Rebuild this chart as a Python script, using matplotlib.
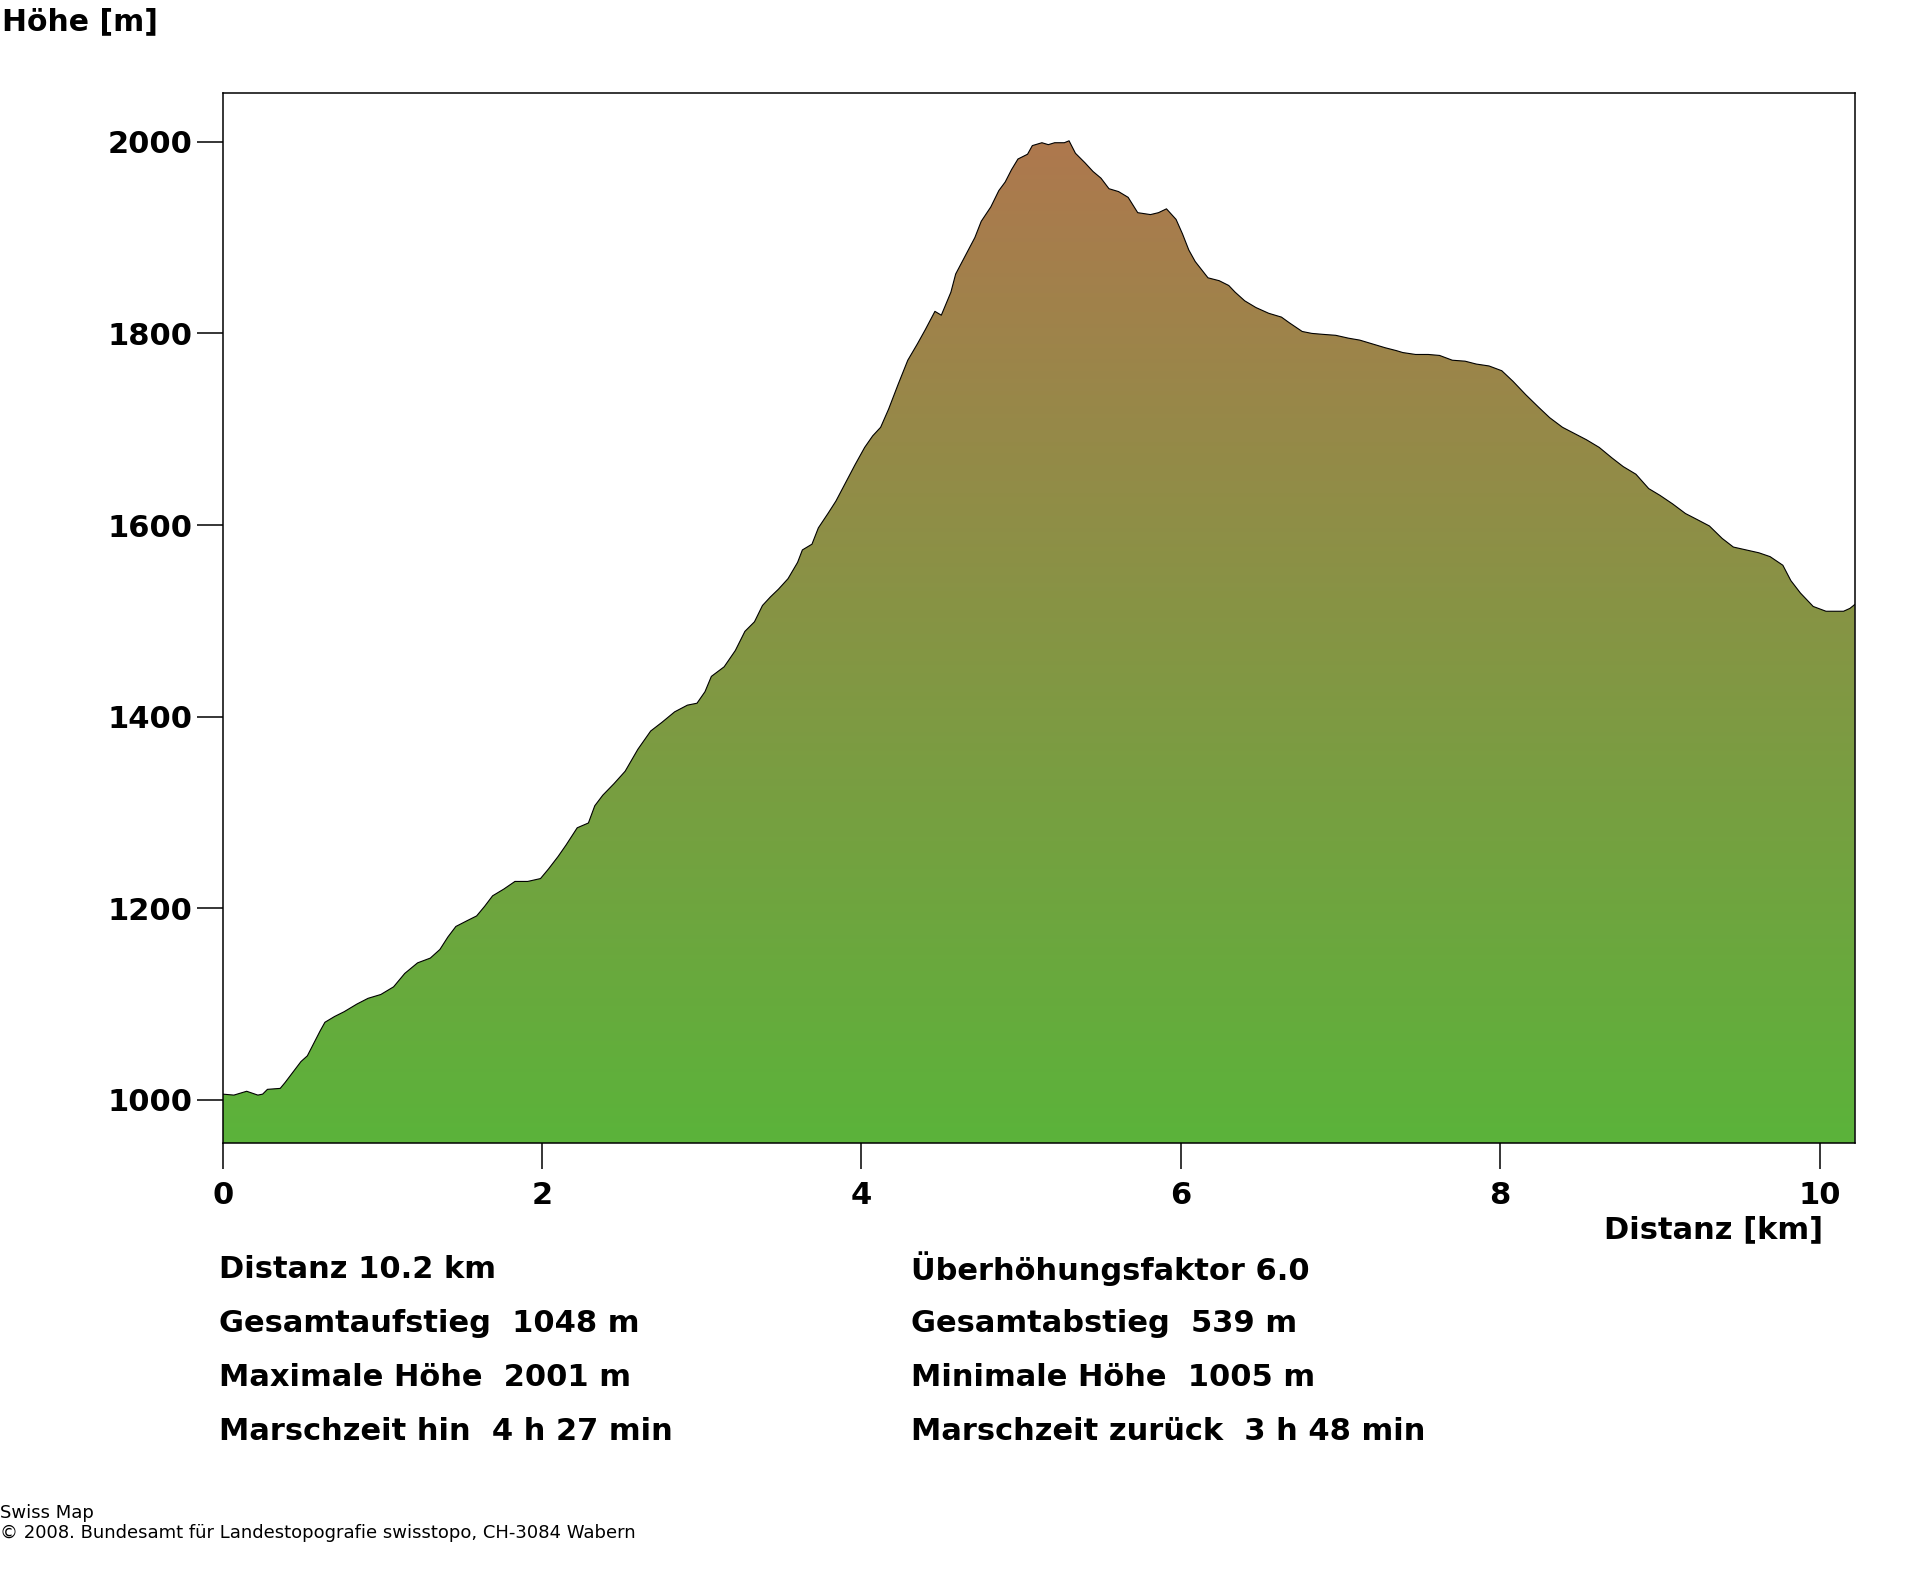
import numpy as np
import matplotlib
matplotlib.use("Agg")
import matplotlib.pyplot as plt
from matplotlib.colors import LinearSegmentedColormap
from matplotlib.patches import Polygon

# profile data
dist_km = [0.00, 0.07, 0.15, 0.22, 0.25, 0.28, 0.36, 0.39, 0.44, 0.49, 0.53, 0.57, 0.61, 0.64,
           0.70, 0.76, 0.84, 0.91, 0.99, 1.07, 1.14, 1.22, 1.30, 1.36, 1.41, 1.46, 1.53, 1.59,
           1.64, 1.69, 1.76, 1.83, 1.91, 1.99, 2.04, 2.10, 2.15, 2.22, 2.29, 2.33, 2.38, 2.45,
           2.52, 2.60, 2.68, 2.75, 2.83, 2.91, 2.97, 3.02, 3.06, 3.14, 3.21, 3.27, 3.33, 3.38,
           3.43, 3.48, 3.54, 3.60, 3.63, 3.69, 3.73, 3.79, 3.84, 3.90, 3.96, 4.02, 4.07, 4.12,
           4.17, 4.23, 4.29, 4.35, 4.40, 4.46, 4.50, 4.56, 4.59, 4.65, 4.71, 4.75, 4.81, 4.86,
           4.90, 4.94, 4.98, 5.04, 5.07, 5.13, 5.17, 5.21, 5.27, 5.30, 5.34, 5.40, 5.45, 5.50,
           5.55, 5.61, 5.67, 5.73, 5.81, 5.86, 5.91, 5.97, 6.01, 6.05, 6.09, 6.17, 6.24, 6.30,
           6.34, 6.40, 6.47, 6.55, 6.63, 6.68, 6.76, 6.82, 6.89, 6.97, 7.05, 7.12, 7.20, 7.28,
           7.35, 7.39, 7.47, 7.55, 7.62, 7.70, 7.78, 7.85, 7.93, 8.01, 8.08, 8.16, 8.24, 8.31,
           8.39, 8.47, 8.54, 8.62, 8.70, 8.77, 8.85, 8.93, 9.00, 9.08, 9.16, 9.23, 9.31, 9.39,
           9.46, 9.54, 9.62, 9.69, 9.77, 9.82, 9.88, 9.96, 10.04, 10.11, 10.15, 10.19, 10.22]
hoehe_m = [1006, 1005, 1009, 1005, 1006, 1011, 1012, 1018, 1029, 1040, 1046, 1059, 1072, 1081,
           1087, 1092, 1100, 1106, 1110, 1118, 1132, 1143, 1148, 1157, 1170, 1181, 1187, 1192,
           1202, 1213, 1220, 1228, 1228, 1231, 1241, 1254, 1266, 1284, 1289, 1307, 1318, 1330,
           1343, 1366, 1385, 1394, 1405, 1412, 1414, 1426, 1442, 1452, 1469, 1489, 1499, 1516,
           1525, 1533, 1544, 1561, 1574, 1580, 1597, 1612, 1625, 1644, 1663, 1681, 1693, 1702,
           1721, 1747, 1772, 1789, 1804, 1823, 1819, 1843, 1862, 1881, 1900, 1917, 1932, 1949,
           1958, 1971, 1982, 1987, 1996, 1999, 1997, 1999, 1999, 2001, 1988, 1978, 1969, 1962,
           1951, 1948, 1942, 1926, 1924, 1926, 1930, 1919, 1904, 1887, 1875, 1858, 1855, 1850,
           1843, 1834, 1827, 1821, 1817, 1811, 1802, 1800, 1799, 1798, 1795, 1793, 1789, 1785,
           1782, 1780, 1778, 1778, 1777, 1772, 1771, 1768, 1766, 1761, 1750, 1736, 1723, 1712,
           1702, 1695, 1689, 1681, 1670, 1661, 1653, 1638, 1631, 1622, 1612, 1606, 1599, 1586,
           1577, 1574, 1571, 1567, 1558, 1542, 1529, 1515, 1510, 1510, 1510, 1513, 1517]

y_ticks = [1000, 1200, 1400, 1600, 1800, 2000]
x_ticks = [0, 2, 4, 6, 8, 10]

stats_left = ["Distanz 10.2 km", "Gesamtaufstieg  1048 m", "Maximale Höhe  2001 m",
              "Marschzeit hin  4 h 27 min"]
stats_right = ["Überhöhungsfaktor 6.0", "Gesamtabstieg  539 m", "Minimale Höhe  1005 m",
               "Marschzeit zurück  3 h 48 min"]

plt.rcParams['font.family'] = ['DejaVu Sans']

fig = plt.figure(figsize=(19.2, 15.72), dpi=100)
ax = fig.add_axes([0.116, 0.2729, 0.850, 0.668])

x = np.array(dist_km)
y = np.array(hoehe_m)
y_lo = y.min() - 50
y_hi = y.max() + 50

# gradient fill clipped by the profile
cmap = LinearSegmentedColormap.from_list("hoehe", ["#5bb33a", "#ae784e"])
grad = np.linspace(0, 1, 256).reshape(-1, 1)
img = ax.imshow(grad, cmap=cmap, aspect="auto", origin="lower",
                extent=[0, x.max(), y_lo, y.max()], zorder=1)
verts = np.vstack([[x[0], y_lo], np.column_stack([x, y]), [x[-1], y_lo]])
poly = Polygon(verts, closed=True, facecolor="none", edgecolor="none")
ax.add_patch(poly)
img.set_clip_path(poly)
ax.plot(x, y, color="black", lw=0.8, zorder=2)

ax.set_xlim(0, x.max())
ax.set_ylim(y_lo, y_hi)
ax.set_xticks(x_ticks)
ax.set_yticks(y_ticks)
for s in ax.spines.values():
    s.set_linewidth(1.1)
ax.tick_params(axis="both", direction="out", length=18.5, width=1.1, labelsize=22)
ax.tick_params(axis="y", pad=3.5)
ax.tick_params(axis="x", pad=9)
for lab in ax.get_xticklabels() + ax.get_yticklabels():
    lab.set_fontweight("bold")

fig.text(2 / 1920, 1 - 22 / 1572, "Höhe [m]", fontsize=21.5, fontweight="bold",
         ha="left", va="center")
fig.text(1823 / 1920, 1 - 1230 / 1572, "Distanz [km]", fontsize=22, fontweight="bold",
         ha="right", va="center")

rows_y = [1269, 1323, 1377, 1431]
for i in range(4):
    fig.text(219 / 1920, 1 - rows_y[i] / 1572, stats_left[i], fontsize=22,
             fontweight="bold", ha="left", va="center")
    fig.text(911 / 1920, 1 - rows_y[i] / 1572, stats_right[i], fontsize=22,
             fontweight="bold", ha="left", va="center")

fig.text(0, 1 - 1513 / 1572, "Swiss Map", fontsize=13, ha="left", va="center")
fig.text(0, 1 - 1533 / 1572, "© 2008. Bundesamt für Landestopografie swisstopo, CH-3084 Wabern",
         fontsize=13, ha="left", va="center")

fig.savefig("out.png", dpi=100, facecolor="white")
